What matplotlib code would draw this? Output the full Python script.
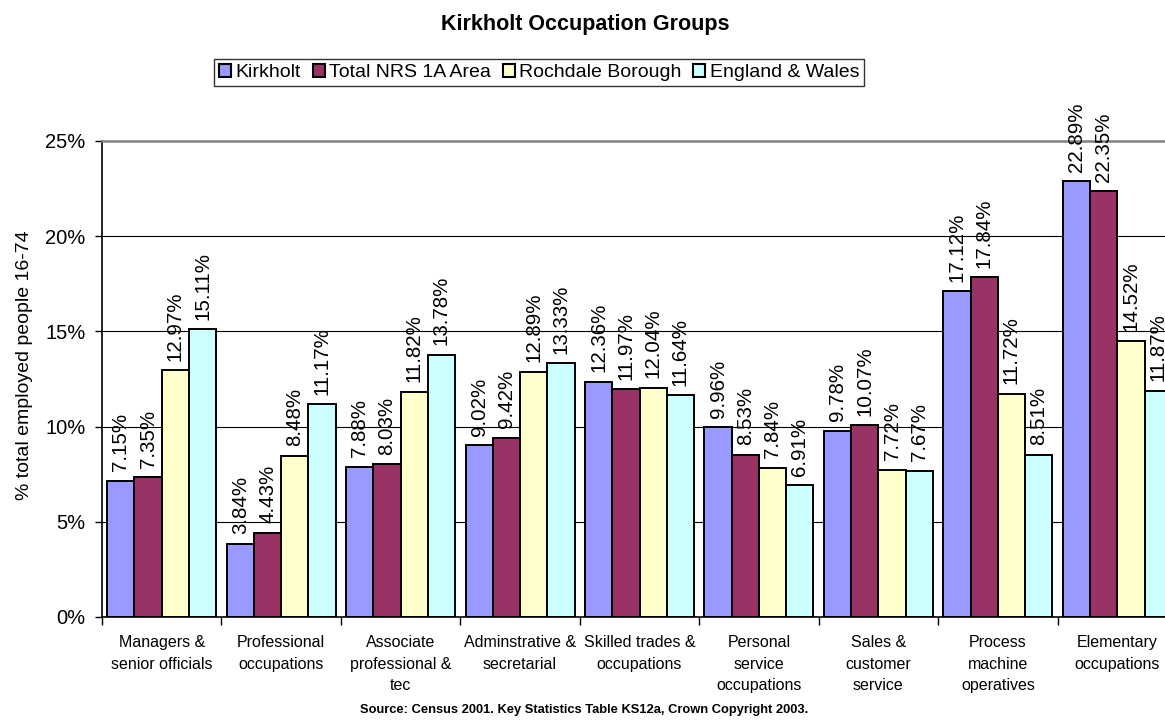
import numpy as np
import matplotlib
matplotlib.use('Agg')
import matplotlib.pyplot as plt
import matplotlib.ticker as ticker

plt.rcParams['font.family'] = ['Liberation Sans', 'DejaVu Sans']

categories = ['Managers &\nsenior officials', 'Professional\noccupations',
              'Associate\nprofessional &\ntec', 'Adminstrative &\nsecretarial',
              'Skilled trades &\noccupations', 'Personal\nservice\noccupations',
              'Sales &\ncustomer\nservice', 'Process\nmachine\noperatives',
              'Elementary\noccupations']
series_names = ['Kirkholt', 'Total NRS 1A Area', 'Rochdale Borough', 'England & Wales']
kirkholt = [7.15, 3.84, 7.88, 9.02, 12.36, 9.96, 9.78, 17.12, 22.89]
nrs_1a = [7.35, 4.43, 8.03, 9.42, 11.97, 8.53, 10.07, 17.84, 22.35]
rochdale = [12.97, 8.48, 11.82, 12.89, 12.04, 7.84, 7.72, 11.72, 14.52]
eng_wales = [15.11, 11.17, 13.78, 13.33, 11.64, 6.91, 7.67, 8.51, 11.87]
colors = ['#9999FF', '#993366', '#FFFFCC', '#CCFFFF']

fig = plt.figure(figsize=(11.65, 7.2), dpi=100)
ax = fig.add_axes([102 / 1165, 103 / 720, 1075 / 1165, 476 / 720])

x = np.arange(len(categories))
w = 0.228
for i, (vals, name, col) in enumerate(zip([kirkholt, nrs_1a, rochdale, eng_wales], series_names, colors)):
    pos = x + (i - 1.5) * w
    ax.bar(pos, vals, width=w, color=col, edgecolor='black', linewidth=1.4, label=name, zorder=3)
    for p, v in zip(pos, vals):
        ax.text(p, v + 0.5, '%.2f%%' % v, rotation=90, ha='center', va='bottom',
                fontsize=14.8, zorder=4)

ax.set_xlim(-0.5, 8.5)
ax.set_ylim(0, 25)
ax.yaxis.set_major_locator(ticker.MultipleLocator(5))
ax.yaxis.set_major_formatter(ticker.FuncFormatter(lambda v, p: '%d%%' % v))
ax.tick_params(axis='y', labelsize=14.5, length=5, width=1, direction='out', pad=7)
ax.set_xticks(x)
ax.set_xticklabels(categories, fontsize=11.5, linespacing=1.55)
ax.tick_params(axis='x', which='major', length=0, pad=13)
ax.set_xticks(np.arange(-0.5, 9, 1), minor=True)
ax.tick_params(axis='x', which='minor', length=6, width=1, direction='out')

for yv in [5, 10, 15, 20]:
    ax.axhline(yv, color='black', linewidth=0.8, zorder=1)
ax.spines['top'].set_color('#808080')
ax.spines['top'].set_linewidth(1.8)
ax.spines['right'].set_visible(False)
ax.spines['left'].set_linewidth(1.2)
ax.spines['bottom'].set_linewidth(1.2)

ax.set_ylabel('% total employed people 16-74', fontsize=14)
ax.yaxis.set_label_coords(-0.064, 0.53)

fig.text(0.502, 0.966, 'Kirkholt Occupation Groups', ha='center', va='center',
         fontsize=15.5, fontweight='bold')
leg = fig.legend(loc='center', bbox_to_anchor=(0.463, 0.899), ncol=4, fontsize=14,
                 frameon=True, fancybox=False, handlelength=0.6, handleheight=0.6,
                 handletextpad=0.25, columnspacing=0.6, borderpad=0.25)
leg.get_frame().set_edgecolor('black')
leg.get_frame().set_linewidth(1)
for h in leg.legend_handles:
    h.set_linewidth(1.5)

fig.text(0.501, 0.014, 'Source: Census 2001. Key Statistics Table KS12a, Crown Copyright 2003.',
         ha='center', va='center', fontsize=9.3, fontweight='bold')

fig.savefig('out.png', dpi=100)
